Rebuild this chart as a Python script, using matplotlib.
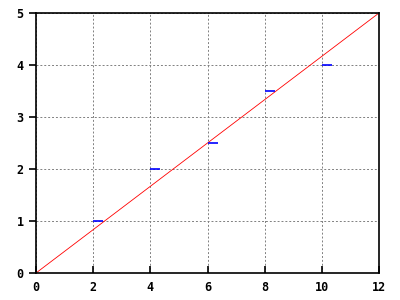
import matplotlib.pyplot as plt
plt.switch_backend('agg')

# data
px = [2, 4, 6, 8, 10]
py = [1, 2, 2.5, 3.5, 4]
seg_len = 0.35
line_x = [0, 12]
line_y = [0, 5]
xticks = [0, 2, 4, 6, 8, 10, 12]
yticks = [0, 1, 2, 3, 4, 5]

fig = plt.figure(figsize=(4, 3), dpi=100)
ax = fig.add_axes([0.09, 0.09, 0.8575, 0.8667])

ax.plot(line_x, line_y, color='red', lw=0.6)
ax.hlines(py, px, [x + seg_len for x in px], color='blue', lw=1.2)

ax.set_xlim(0, 12)
ax.set_ylim(0, 5)
ax.set_xticks(xticks)
ax.set_yticks(yticks)
ax.grid(True, color='gray', linestyle=(0, (2, 2)), lw=0.7)
ax.tick_params(axis='x', direction='in', length=5, width=1.2, pad=6)
ax.tick_params(axis='y', direction='out', length=5, width=1.2, pad=4)
for s in ax.spines.values():
    s.set_linewidth(1.2)
for lab in ax.get_xticklabels() + ax.get_yticklabels():
    lab.set_fontfamily('DejaVu Sans Mono')
    lab.set_fontweight('bold')
    lab.set_fontsize(8.5)

plt.savefig("out.png")
